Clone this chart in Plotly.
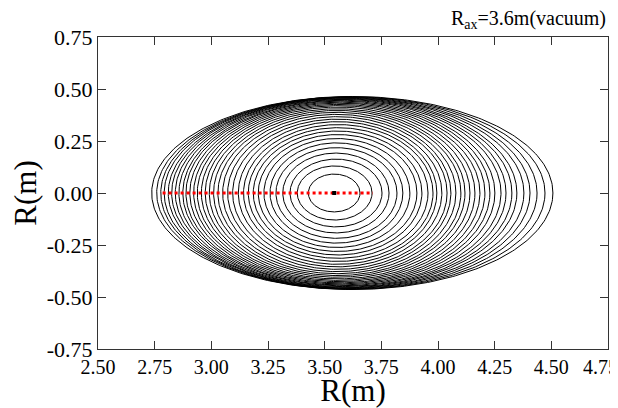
import numpy as np
import plotly.graph_objects as go

# Flux-surface crossings on the midplane (Z=0), innermost -> outermost
r_inner_edge = [3.428, 3.379, 3.347, 3.315, 3.285, 3.259, 3.232, 3.207, 3.185, 3.163,
                3.142, 3.119, 3.094, 3.072, 3.050, 3.029, 3.010, 2.991, 2.973, 2.956,
                2.938, 2.922, 2.905, 2.888, 2.874, 2.857, 2.841, 2.825, 2.810, 2.792,
                2.777, 2.759, 2.737]
r_outer_edge = [3.656, 3.709, 3.753, 3.784, 3.819, 3.845, 3.876, 3.907, 3.929, 3.956,
                3.978, 3.995, 4.017, 4.040, 4.057, 4.079, 4.101, 4.119, 4.141, 4.163,
                4.185, 4.207, 4.229, 4.251, 4.278, 4.300, 4.326, 4.348, 4.379, 4.406,
                4.437, 4.472, 4.507]
z_half_height = [0.091, 0.130, 0.163, 0.192, 0.218, 0.241, 0.262, 0.281, 0.298, 0.314,
                 0.329, 0.343, 0.355, 0.367, 0.378, 0.388, 0.397, 0.405, 0.413, 0.420,
                 0.426, 0.432, 0.437, 0.442, 0.446, 0.450, 0.453, 0.456, 0.458, 0.460,
                 0.462, 0.463, 0.464]

# Magnetic axis and the red chord
axis_r = [3.542]
axis_z = [0.0]
chord_r = [2.785, 3.713]
chord_z = [0.0, 0.0]

x_ticks = [2.50, 2.75, 3.00, 3.25, 3.50, 3.75, 4.00, 4.25, 4.50, 4.75]
y_ticks = [-0.75, -0.50, -0.25, 0.00, 0.25, 0.50, 0.75]

fig = go.Figure()
theta = np.linspace(0, 2 * np.pi, 361)
for rl, rr, h in zip(r_inner_edge, r_outer_edge, z_half_height):
    rc = (rl + rr) / 2
    a = (rr - rl) / 2
    fig.add_trace(go.Scatter(x=rc + a * np.cos(theta), y=h * np.sin(theta),
                             mode="lines", line=dict(color="black", width=1),
                             hoverinfo="skip", showlegend=False))

fig.add_trace(go.Scatter(x=chord_r, y=chord_z, mode="lines",
                         line=dict(color="#ff0000", width=3, dash="dot"),
                         showlegend=False))
fig.add_trace(go.Scatter(x=axis_r, y=axis_z, mode="markers",
                         marker=dict(color="black", size=4, symbol="square"),
                         showlegend=False))

font_family = "Liberation Serif"
axis_common = dict(showline=True, linecolor="#333333", linewidth=1.2, mirror="ticks",
                   ticks="inside", ticklen=8, tickcolor="#333333", tickwidth=1,
                   showgrid=False, zeroline=False, automargin=False,
                   ticklabeloverflow="allow")

x_text = [f"{v:.2f}" for v in x_ticks]
x_text[-1] = x_text[-1] + "\u00a0\u00a0\u00a0"  # keep the edge label inside the window

fig.update_xaxes(range=[2.5, 4.75], tickvals=x_ticks, ticktext=x_text,
                 tickfont=dict(family=font_family, size=20, color="black"),
                 title=dict(text="R(m)", font=dict(family=font_family, size=31, color="black"),
                            standoff=6),
                 **axis_common)
fig.update_yaxes(range=[-0.75, 0.75], tickvals=y_ticks,
                 ticktext=[f"{v:.2f}" for v in y_ticks],
                 tickfont=dict(family=font_family, size=22, color="black"),
                 title=dict(text="R(m)", font=dict(family=font_family, size=31, color="black"),
                            standoff=8),
                 **axis_common)

fig.add_annotation(text="R<sub>ax</sub>=3.6m(vacuum)", xref="paper", yref="paper",
                   x=1.0, y=1.0, xanchor="right", yanchor="bottom", yshift=3, xshift=0,
                   showarrow=False, font=dict(family=font_family, size=20, color="black"))

# the page body adds an 8 px offset, so the figure is 8 px smaller than the window
fig.update_layout(width=610, height=400, margin=dict(l=90, r=10, t=29, b=59, autoexpand=False),
                  plot_bgcolor="white", paper_bgcolor="white")

fig.write_html("out.html")
